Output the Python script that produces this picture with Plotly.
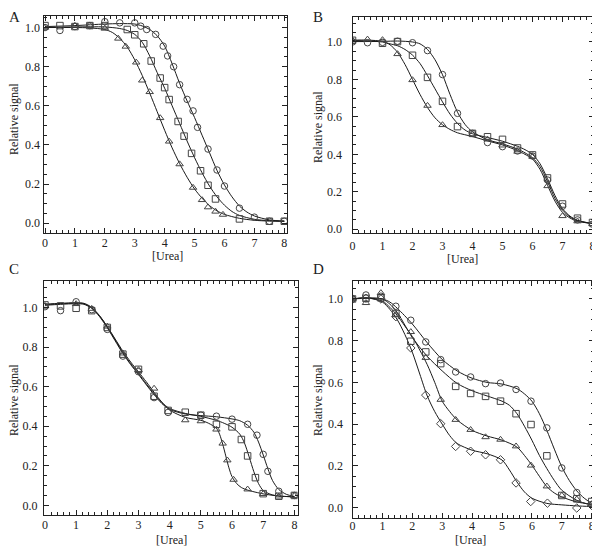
import plotly.graph_objects as go

# ---------------- Panel A data ----------------
A_circ_x = [0, 0.5, 1.0, 1.5, 2.0, 2.5, 3.0, 3.2, 3.4, 3.7, 3.95, 4.1, 4.3, 4.5, 4.75, 4.95, 5.1, 5.45, 5.75, 6.0, 6.5, 7.0, 7.5, 8.0]
A_circ_y = [1.0, 0.985, 1.005, 1.01, 1.03, 1.024, 1.024, 1.007, 0.99, 0.965, 0.905, 0.855, 0.80, 0.708, 0.633, 0.574, 0.49, 0.379, 0.272, 0.19, 0.077, 0.031, 0.01, 0.01]
A_sq_x = [0, 0.5, 1.0, 1.5, 2.0, 2.75, 3.0, 3.3, 3.55, 3.85, 4.0, 4.15, 4.45, 4.65, 4.9, 5.2, 5.45, 5.7, 6.5, 7.5, 8.0]
A_sq_y = [1.01, 1.01, 1.005, 1.01, 1.01, 0.99, 0.963, 0.917, 0.829, 0.742, 0.693, 0.632, 0.52, 0.445, 0.357, 0.268, 0.194, 0.124, 0.022, 0.01, 0.01]
A_tri_x = [0, 1.0, 1.5, 2.0, 2.45, 2.7, 3.05, 3.25, 3.5, 3.85, 4.15, 4.5, 4.95, 5.25, 5.45, 5.7, 5.95]
A_tri_y = [1.0, 1.01, 1.01, 0.995, 0.944, 0.903, 0.822, 0.73, 0.671, 0.538, 0.418, 0.302, 0.182, 0.119, 0.082, 0.06, 0.044]

A_fit_circ_x = [0, 1, 2, 2.5, 3, 3.25, 3.5, 3.75, 4, 4.25, 4.5, 4.75, 5, 5.25, 5.5, 5.75, 6, 6.25, 6.5, 6.75, 7, 7.5, 8]
A_fit_circ_y = [1.005, 1.01, 1.018, 1.02, 1.018, 1.008, 0.99, 0.958, 0.905, 0.815, 0.715, 0.625, 0.54, 0.45, 0.36, 0.27, 0.195, 0.135, 0.088, 0.057, 0.037, 0.017, 0.011]
A_fit_sq_x = [0, 1, 2, 2.5, 2.75, 3, 3.25, 3.5, 3.75, 4, 4.25, 4.5, 4.75, 5, 5.25, 5.5, 5.75, 6, 6.25, 6.5, 7, 7.5, 8]
A_fit_sq_y = [1.0, 1.003, 1.003, 0.995, 0.985, 0.965, 0.925, 0.855, 0.77, 0.69, 0.6, 0.51, 0.42, 0.335, 0.258, 0.19, 0.135, 0.092, 0.06, 0.04, 0.02, 0.013, 0.01]
A_fit_tri_x = [0, 1, 1.5, 2, 2.25, 2.5, 2.75, 3, 3.25, 3.5, 3.75, 4, 4.25, 4.5, 4.75, 5, 5.25, 5.5, 5.75, 6, 6.5, 7, 7.5, 8]
A_fit_tri_y = [1.0, 1.0, 0.998, 0.99, 0.975, 0.945, 0.9, 0.835, 0.755, 0.665, 0.57, 0.475, 0.385, 0.305, 0.235, 0.175, 0.128, 0.09, 0.063, 0.045, 0.025, 0.015, 0.011, 0.01]

# ---------------- Panel B data ----------------
B_x = [0, 0.5, 1.0, 1.5, 2.0, 2.5, 3.0, 3.5, 4.0, 4.5, 5.0, 5.5, 6.0, 6.5, 7.0, 7.5, 8.0]
B_circ_y = [1.0, 0.996, 0.998, 1.004, 0.996, 0.954, 0.826, 0.619, 0.512, 0.463, 0.441, 0.418, 0.391, 0.263, 0.123, 0.05, 0.027]
B_sq_x = [0, 1.0, 1.5, 2.0, 2.5, 3.0, 3.5, 4.0, 4.5, 5.0, 5.5, 6.0, 6.5, 7.0, 7.5, 8.0]
B_sq_y = [1.009, 0.993, 1.002, 0.929, 0.811, 0.683, 0.548, 0.512, 0.494, 0.48, 0.434, 0.397, 0.274, 0.135, 0.059, 0.036]
B_tri_x = [0, 0.5, 1.0, 1.5, 2.0, 2.5, 3.0, 4.0, 4.5, 5.0, 5.5, 6.0, 6.5, 7.0, 7.5, 8.0]
B_tri_y = [1.009, 1.014, 1.011, 0.936, 0.797, 0.66, 0.557, 0.508, 0.48, 0.448, 0.415, 0.388, 0.231, 0.071, 0.043, 0.028]

B_fit_circ_x = [0, 1, 1.5, 2, 2.25, 2.5, 2.75, 3, 3.25, 3.5, 3.75, 4, 4.5, 5, 5.5, 5.75, 6, 6.25, 6.5, 6.75, 7, 7.25, 7.5, 8]
B_fit_circ_y = [1.002, 1.003, 1.005, 1.0, 0.99, 0.96, 0.905, 0.825, 0.72, 0.625, 0.56, 0.52, 0.478, 0.456, 0.428, 0.408, 0.382, 0.335, 0.255, 0.165, 0.103, 0.066, 0.046, 0.03]
B_fit_sq_x = [0, 1, 1.25, 1.5, 1.75, 2, 2.25, 2.5, 2.75, 3, 3.25, 3.5, 3.75, 4, 4.5, 5, 5.5, 5.75, 6, 6.25, 6.5, 6.75, 7, 7.25, 7.5, 8]
B_fit_sq_y = [1.008, 1.0, 0.99, 0.98, 0.96, 0.93, 0.885, 0.82, 0.75, 0.68, 0.615, 0.565, 0.53, 0.51, 0.49, 0.47, 0.443, 0.425, 0.4, 0.35, 0.27, 0.18, 0.11, 0.07, 0.048, 0.03]
B_fit_tri_x = [0, 0.5, 1, 1.25, 1.5, 1.75, 2, 2.25, 2.5, 2.75, 3, 3.25, 3.5, 4, 4.5, 5, 5.5, 5.75, 6, 6.25, 6.5, 6.75, 7, 7.25, 7.5, 8]
B_fit_tri_y = [1.01, 1.01, 1.003, 0.985, 0.945, 0.88, 0.8, 0.72, 0.65, 0.595, 0.558, 0.533, 0.515, 0.495, 0.472, 0.45, 0.42, 0.4, 0.375, 0.32, 0.235, 0.15, 0.09, 0.06, 0.043, 0.03]

# ---------------- Panel C data ----------------
C_circ_x = [0, 0.5, 1.0, 1.5, 2.0, 2.5, 3.0, 3.5, 3.95, 5.0, 5.5, 6.0, 6.5, 6.8, 7.0, 7.15, 7.5, 8.0]
C_circ_y = [1.005, 0.985, 1.03, 0.99, 0.89, 0.755, 0.676, 0.545, 0.47, 0.456, 0.451, 0.436, 0.41, 0.355, 0.258, 0.172, 0.071, 0.05]
C_sq_x = [0, 0.5, 1.0, 1.5, 2.0, 2.5, 3.0, 3.5, 3.95, 4.5, 5.0, 5.5, 6.0, 6.3, 6.5, 6.75, 7.0, 7.5, 8.0]
C_sq_y = [1.014, 1.009, 0.997, 0.985, 0.9, 0.765, 0.688, 0.552, 0.48, 0.471, 0.456, 0.41, 0.397, 0.333, 0.25, 0.14, 0.059, 0.046, 0.05]
C_tri_x = [0, 1.0, 1.5, 2.0, 2.5, 3.0, 3.5, 4.5, 5.0, 5.5, 5.7, 5.85, 6.05, 6.5, 7.0, 7.5, 8.0]
C_tri_y = [1.01, 1.019, 0.995, 0.905, 0.769, 0.685, 0.591, 0.431, 0.426, 0.384, 0.313, 0.228, 0.13, 0.081, 0.058, 0.045, 0.048]

C_fit_circ_x = [0, 0.5, 1, 1.25, 1.5, 1.75, 2, 2.25, 2.5, 2.75, 3, 3.25, 3.5, 3.75, 4, 4.5, 5, 5.5, 6, 6.25, 6.5, 6.7, 6.85, 7.0, 7.15, 7.3, 7.5, 7.75, 8]
C_fit_circ_y = [1.015, 1.02, 1.023, 1.02, 0.998, 0.955, 0.898, 0.833, 0.768, 0.712, 0.662, 0.61, 0.56, 0.515, 0.485, 0.462, 0.454, 0.448, 0.437, 0.428, 0.405, 0.37, 0.32, 0.255, 0.185, 0.125, 0.08, 0.055, 0.045]
C_fit_sq_x = [0, 0.5, 1, 1.25, 1.5, 1.75, 2, 2.25, 2.5, 2.75, 3, 3.25, 3.5, 3.75, 4, 4.5, 5, 5.5, 5.75, 6, 6.25, 6.4, 6.55, 6.7, 6.85, 7.0, 7.25, 7.5, 8]
C_fit_sq_y = [1.018, 1.022, 1.025, 1.022, 1.002, 0.96, 0.903, 0.838, 0.773, 0.717, 0.667, 0.615, 0.565, 0.52, 0.49, 0.465, 0.45, 0.43, 0.415, 0.395, 0.36, 0.315, 0.245, 0.17, 0.11, 0.075, 0.055, 0.047, 0.043]
C_fit_tri_x = [0, 0.5, 1, 1.25, 1.5, 1.75, 2, 2.25, 2.5, 2.75, 3, 3.25, 3.5, 3.75, 4, 4.5, 5, 5.25, 5.5, 5.6, 5.7, 5.8, 5.9, 6.0, 6.15, 6.3, 6.5, 7.0, 7.5, 8]
C_fit_tri_y = [1.012, 1.017, 1.02, 1.017, 0.997, 0.958, 0.905, 0.842, 0.78, 0.725, 0.675, 0.625, 0.572, 0.522, 0.482, 0.445, 0.43, 0.415, 0.39, 0.36, 0.31, 0.25, 0.19, 0.145, 0.11, 0.09, 0.077, 0.058, 0.047, 0.043]

# ---------------- Panel D data ----------------
D_x = [0, 0.45, 0.95, 1.45, 1.95, 2.45, 2.95, 3.45, 3.95, 4.45, 4.95, 5.47, 5.97, 6.5, 7.0, 7.5, 8.0]
D_circ_y = [1.0, 1.019, 1.013, 0.965, 0.898, 0.794, 0.709, 0.65, 0.626, 0.594, 0.597, 0.566, 0.51, 0.382, 0.19, 0.072, 0.015]
D_sq_y = [1.0, 1.003, 1.005, 0.93, 0.797, 0.746, 0.69, 0.581, 0.547, 0.533, 0.51, 0.45, 0.398, 0.248, 0.058, 0.042, 0.029]
D_tri_y = [1.0, 0.981, 1.029, 0.925, 0.842, 0.718, 0.517, 0.421, 0.373, 0.338, 0.326, 0.294, 0.202, 0.102, 0.058, 0.04, 0.015]
D_dia_x = [0, 0.45, 0.95, 1.45, 1.95, 2.45, 2.95, 3.45, 3.95, 4.45, 4.95, 5.47, 5.96, 6.52, 7.5, 8.0]
D_dia_y = [1.0, 1.003, 1.0, 0.915, 0.765, 0.539, 0.402, 0.293, 0.27, 0.253, 0.229, 0.118, 0.029, 0.021, -0.002, 0.01]

D_fit_circ_x = [0, 0.5, 1, 1.25, 1.5, 2, 2.5, 3, 3.5, 4, 4.5, 5, 5.5, 5.75, 6, 6.25, 6.5, 6.75, 7, 7.25, 7.5, 7.75, 8]
D_fit_circ_y = [1.0, 1.005, 1.0, 0.985, 0.955, 0.88, 0.79, 0.71, 0.655, 0.62, 0.6, 0.592, 0.57, 0.545, 0.51, 0.45, 0.37, 0.28, 0.195, 0.13, 0.08, 0.045, 0.02]
D_fit_sq_x = [0, 0.5, 1, 1.25, 1.5, 1.75, 2, 2.5, 3, 3.5, 4, 4.5, 5, 5.25, 5.5, 5.75, 6, 6.25, 6.5, 6.75, 7, 7.5, 8]
D_fit_sq_y = [1.0, 1.003, 1.0, 0.975, 0.935, 0.875, 0.815, 0.725, 0.655, 0.595, 0.56, 0.535, 0.51, 0.49, 0.45, 0.39, 0.323, 0.25, 0.187, 0.13, 0.083, 0.035, 0.011]
D_fit_tri_x = [0, 0.5, 1, 1.25, 1.5, 1.75, 2, 2.25, 2.5, 2.75, 3, 3.25, 3.5, 4, 4.5, 5, 5.5, 5.75, 6, 6.25, 6.5, 6.75, 7, 7.5, 8]
D_fit_tri_y = [1.0, 1.005, 0.99, 0.96, 0.92, 0.87, 0.82, 0.755, 0.685, 0.6, 0.51, 0.46, 0.42, 0.37, 0.343, 0.323, 0.29, 0.25, 0.203, 0.15, 0.1, 0.07, 0.051, 0.027, 0.016]
D_fit_dia_x = [0, 0.5, 1, 1.25, 1.5, 1.75, 2, 2.25, 2.5, 2.75, 3, 3.25, 3.5, 4, 4.5, 5, 5.25, 5.5, 5.75, 6, 6.5, 7, 7.5, 8]
D_fit_dia_y = [1.0, 1.005, 0.985, 0.95, 0.9, 0.83, 0.745, 0.64, 0.535, 0.46, 0.4, 0.345, 0.307, 0.275, 0.258, 0.228, 0.18, 0.123, 0.075, 0.045, 0.02, 0.013, 0.008, 0.005]

panel_letters = ["A", "B", "C", "D"]
x_title = "[Urea]"
y_title = "Relative signal"

FONT = "Liberation Serif"
TXT_C = "#222222"
LINE_C = "#1a1a1a"
MARK_C = "#444444"

# the page body has an 8px margin, so the figure sits at (8, 8) in the window
W, H = 592, 546
OFF = 8

fig = go.Figure()

panels = {
    1: dict(fits=[(A_fit_circ_x, A_fit_circ_y), (A_fit_sq_x, A_fit_sq_y), (A_fit_tri_x, A_fit_tri_y)],
            pts=[(A_circ_x, A_circ_y, "circle-open"), (A_sq_x, A_sq_y, "square-open"), (A_tri_x, A_tri_y, "triangle-up-open")]),
    2: dict(fits=[(B_fit_circ_x, B_fit_circ_y), (B_fit_sq_x, B_fit_sq_y), (B_fit_tri_x, B_fit_tri_y)],
            pts=[(B_x, B_circ_y, "circle-open"), (B_sq_x, B_sq_y, "square-open"), (B_tri_x, B_tri_y, "triangle-up-open")]),
    3: dict(fits=[(C_fit_circ_x, C_fit_circ_y), (C_fit_sq_x, C_fit_sq_y), (C_fit_tri_x, C_fit_tri_y)],
            pts=[(C_circ_x, C_circ_y, "circle-open"), (C_sq_x, C_sq_y, "square-open"), (C_tri_x, C_tri_y, "triangle-up-open")]),
    4: dict(fits=[(D_fit_circ_x, D_fit_circ_y), (D_fit_sq_x, D_fit_sq_y), (D_fit_tri_x, D_fit_tri_y), (D_fit_dia_x, D_fit_dia_y)],
            pts=[(D_x, D_circ_y, "circle-open"), (D_x, D_sq_y, "square-open"), (D_x, D_tri_y, "triangle-up-open"), (D_dia_x, D_dia_y, "diamond-open")]),
}

for i, p in panels.items():
    xa = "x" if i == 1 else f"x{i}"
    ya = "y" if i == 1 else f"y{i}"
    for fx, fy in p["fits"]:
        fig.add_trace(go.Scatter(x=fx, y=fy, mode="lines", xaxis=xa, yaxis=ya,
                                 line=dict(color=LINE_C, width=1, shape="spline", smoothing=0.8),
                                 showlegend=False, hoverinfo="skip"))
    for px, py, sym in p["pts"]:
        fig.add_trace(go.Scatter(x=px, y=py, mode="markers", xaxis=xa, yaxis=ya,
                                 marker=dict(symbol=sym, size=6.5, color=MARK_C, line=dict(width=1, color=MARK_C)),
                                 showlegend=False))

def box(l, r, t, b):
    return [(l - OFF) / W, (r - OFF) / W], [1 - (b - OFF) / H, 1 - (t - OFF) / H]

domains = {
    1: dict(b=box(43.5, 287, 16, 233), xr=[-0.05, 8.09], yr=[-0.05, 1.059], ylab=0, xlab=-1),
    2: dict(b=box(352.5, 594, 16.5, 233), xr=[0.0, 8.05], yr=[-0.02, 1.136], ylab=7, xlab=2),
    3: dict(b=box(44, 297.5, 281, 515), xr=[-0.03, 8.1], yr=[-0.049, 1.135], ylab=3, xlab=-1),
    4: dict(b=box(352.5, 593.5, 281, 518), xr=[0.0, 8.06], yr=[-0.05, 1.086], ylab=6, xlab=-3),
}

layout = dict(
    width=W, height=H,
    margin=dict(l=0, r=0, t=0, b=0, autoexpand=False),
    paper_bgcolor="white", plot_bgcolor="white",
    font=dict(family=FONT, size=12, color=TXT_C),
)

common = dict(showline=True, linecolor=TXT_C, linewidth=1, mirror="allticks",
              ticks="inside", ticklen=5, tickwidth=1, tickcolor=TXT_C,
              showgrid=False, zeroline=False, automargin=False,
              tickfont=dict(family=FONT, size=12, color=TXT_C))

for i, d in domains.items():
    xk = "xaxis" if i == 1 else f"xaxis{i}"
    yk = "yaxis" if i == 1 else f"yaxis{i}"
    ya = "y" if i == 1 else f"y{i}"
    xa = "x" if i == 1 else f"x{i}"
    xd, yd = d["b"]
    layout[xk] = dict(common, domain=xd, range=d["xr"], anchor=ya, dtick=1, tick0=0,
                      ticklabelstandoff=d["xlab"],
                      minor=dict(dtick=0.2, ticks="inside", ticklen=3, tickcolor=TXT_C, showgrid=False))
    layout[yk] = dict(common, domain=yd, range=d["yr"], anchor=xa, dtick=0.2, tick0=0,
                      tickformat=".1f", ticklabelstandoff=d["ylab"],
                      minor=dict(dtick=0.05, ticks="inside", ticklen=3, tickcolor=TXT_C, showgrid=False))

fig.update_layout(**layout)

def pp(x, y):
    return (x - OFF) / W, 1 - (y - OFF) / H

x_title_pos = [(167, 256), (462, 259), (171, 540), (470, 540)]
y_title_pos = [(14, 119), (318, 127), (14, 400), (318, 400)]
for (tx, ty) in x_title_pos:
    ax_, ay_ = pp(tx, ty)
    fig.add_annotation(text=x_title, x=ax_, y=ay_, xref="paper", yref="paper", showarrow=False,
                       xanchor="center", yanchor="middle", font=dict(family=FONT, size=12, color=TXT_C))
for (tx, ty) in y_title_pos:
    ax_, ay_ = pp(tx, ty)
    fig.add_annotation(text=y_title, x=ax_, y=ay_, xref="paper", yref="paper", showarrow=False,
                       textangle=-90, xanchor="center", yanchor="middle", font=dict(family=FONT, size=12, color=TXT_C))

# panel letters: (page x, page y, anchors)
letter_pos = [(8, 8, "left", "top"), (312, 8, "left", "top"), (8, 269, "left", "middle"), (312, 269, "left", "middle")]
for letter, (lx, ly, xa_, ya_) in zip(panel_letters, letter_pos):
    ax_, ay_ = pp(lx, ly)
    fig.add_annotation(text=letter, x=ax_, y=ay_, xref="paper", yref="paper",
                       showarrow=False, xanchor=xa_, yanchor=ya_, borderpad=0,
                       font=dict(family=FONT, size=15, color=TXT_C))

fig.write_html("out.html")
